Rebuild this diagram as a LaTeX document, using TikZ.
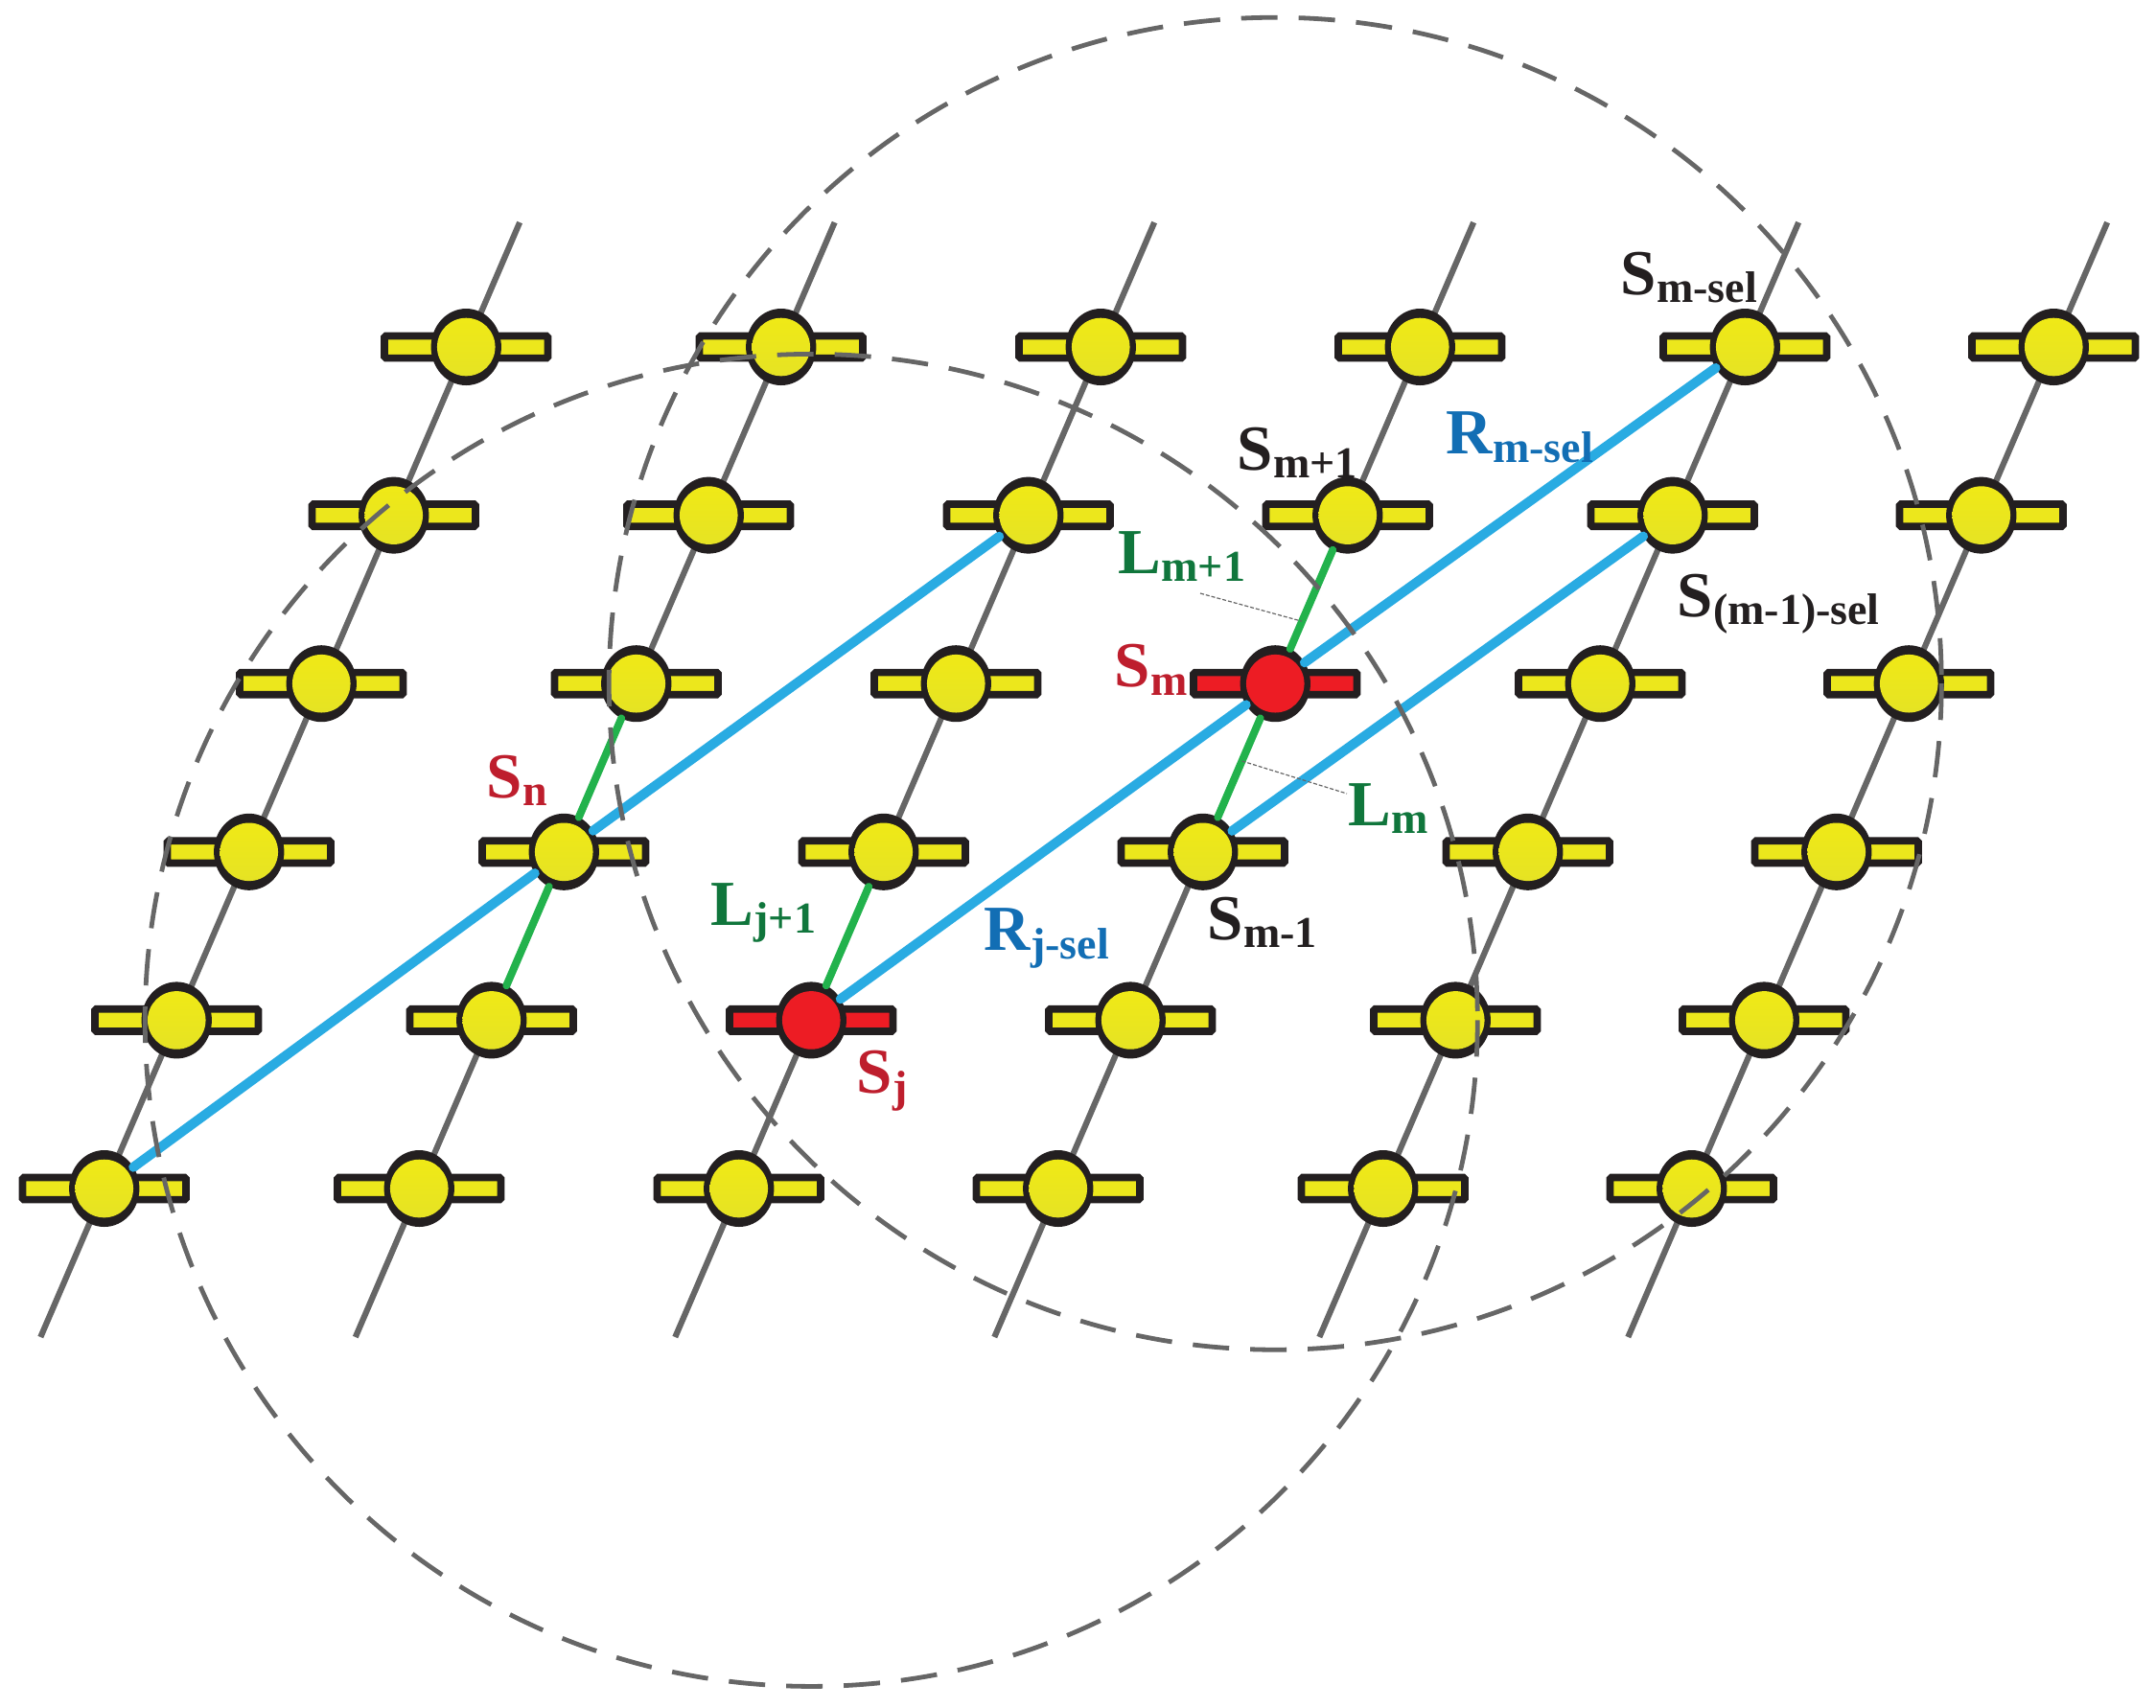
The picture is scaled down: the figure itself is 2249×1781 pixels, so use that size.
\documentclass[tikz,border=0pt]{standalone}
\usepackage{fontspec}
\setmainfont{Liberation Serif}
\usetikzlibrary{shapes.geometric,calc}
\definecolor{satyellowtop}{RGB}{241,234,20}
\definecolor{satyellowbot}{RGB}{228,226,38}
\definecolor{satyellow}{RGB}{236,231,28}
\definecolor{satred}{RGB}{237,28,36}
\definecolor{outl}{RGB}{35,31,32}
\definecolor{colgray}{RGB}{102,102,102}
\definecolor{rline}{RGB}{41,171,226}
\definecolor{lline}{RGB}{34,178,76}
\definecolor{labred}{RGB}{190,30,45}
\definecolor{labgreen}{RGB}{16,118,60}
\definecolor{labblue}{RGB}{18,110,180}
\definecolor{labblack}{RGB}{35,31,32}
\pgfdeclarelayer{bg}
\pgfsetlayers{bg,main}
\newcommand\sublab[2]{#1\raisebox{-2.2pt}{\fontsize{11.5pt}{12pt}\selectfont\bfseries #2}}
\tikzset{
  sat/.style={ellipse, fill=outl, minimum width=18.33pt, minimum height=20pt, inner sep=0pt, outer sep=0pt,
    path picture={\shade[top color=satyellowtop, bottom color=satyellowbot] (path picture bounding box.center) circle[radius=30.3];}},
  panel/.style={rectangle, draw=outl, line width=1.92pt, fill=satyellow, minimum width=42.65pt, minimum height=5.8pt, inner sep=0pt, outer sep=0pt, rounded corners=0.4pt},
  redsat/.style={path picture={\fill[satred] (path picture bounding box.center) circle[radius=30.3];}},
  sf-2-4/.style={redsat},
  sf-3-2/.style={redsat},
  pf-2-4/.style={fill=satred},
  pf-3-2/.style={fill=satred},
  colline/.style={draw=colgray, line width=1.55pt},
  linkL/.style={draw=lline, line width=2pt, line cap=round},
  linkR/.style={draw=rline, line width=2.5pt, line cap=round},
  rangecircle/.style={draw=colgray, line width=1.2pt, dash pattern=on 9.5pt off 5.5pt},
  leader/.style={draw=colgray, line width=0.3pt, dash pattern=on 1pt off 0.5pt},
  lab/.style={font=\fontsize{16.75pt}{18pt}\selectfont\bfseries, inner sep=0pt, anchor=base west},
}
\begin{document}
\begin{tikzpicture}[x=0.25pt, y=-0.25pt]
\useasboundingbox (0,0) rectangle (2249,1781);
% lattice of satellites and orbit lines
\foreach \c/\off in {0/0,1/328.5,2/662,3/995,4/1334,5/1656}{
  \pgfmathsetmacro\tx{\off+542.15}
  \pgfmathsetmacro\bx{\off+42.3}
  \coordinate (top-\c) at (\tx,232);
  \coordinate (bot-\c) at (\bx,1395);
  \begin{pgfonlayer}{bg}
    \draw[colline] (top-\c) -- (bot-\c);
  \end{pgfonlayer}
  \foreach \r in {0,...,5}{
    \pgfmathsetmacro\sx{486.25+\off-75.5*\r}
    \pgfmathsetmacro\sy{362+175.6*\r}
    \node[panel, pf-\c-\r/.try] (p-\c-\r) at (\sx,\sy) {};
    \node[sat, sf-\c-\r/.try] (s-\c-\r) at (\sx,\sy) {};
  }
}
% inter-satellite links
\draw[linkL] (s-1-3) -- (s-1-2);
\draw[linkL] (s-1-3) -- (s-1-4);
\draw[linkL] (s-2-4) -- (s-2-3);
\draw[linkL] (s-3-2) -- (s-3-1);
\draw[linkL] (s-3-2) -- (s-3-3);
\draw[linkR] (s-0-5) -- (s-1-3);
\draw[linkR] (s-1-3) -- (s-2-1);
\draw[linkR] (s-2-4) -- (s-3-2);
\draw[linkR] (s-3-2) -- (s-4-0);
\draw[linkR] (s-3-3) -- (s-4-1);
% range circles
\draw[rangecircle] (s-3-2.center) circle[radius=695];
\draw[rangecircle] (s-2-4.center) circle[radius=695];
% leaders
\coordinate (lmp1) at (1252,619);
\coordinate (lm) at (1405,828);
\draw[leader] (lmp1) -- ($(s-3-2.center)!0.37!(s-3-1.center)$);
\draw[leader] ($(s-3-2.center)!0.46!(s-3-3.center)$) -- (lm);
% labels
\node[lab, text=labblack] (t-msel) at (1690,307) {\sublab{S}{m-sel}};
\node[lab, text=labblack] (t-mp1) at (1290,490) {\sublab{S}{m+1}};
\node[lab, text=labblue] (t-rmsel) at (1508,473.5) {\sublab{R}{m-sel}};
\node[lab, text=labgreen] (t-lmp1) at (1166,598) {\sublab{L}{m+1}};
\node[lab, text=labblack] (t-m1sel) at (1749,643) {\sublab{S}{(m-1)-sel}};
\node[lab, text=labred] (t-sm) at (1162,716.7) {\sublab{S}{m}};
\node[lab, text=labgreen] (t-lm) at (1406,861) {\sublab{L}{m}};
\node[lab, text=labblack] (t-smm1) at (1259,980) {\sublab{S}{m-1}};
\node[lab, text=labblue] (t-rjsel) at (1026,991.7) {\sublab{R}{j-sel}};
\node[lab, text=labgreen] (t-ljp1) at (741,965) {\sublab{L}{j+1}};
\node[lab, text=labred] (t-sj) at (893,1140.7) {\sublab{S}{j}};
\node[lab, text=labred] (t-sn) at (507,832) {\sublab{S}{n}};
\end{tikzpicture}
\end{document}
